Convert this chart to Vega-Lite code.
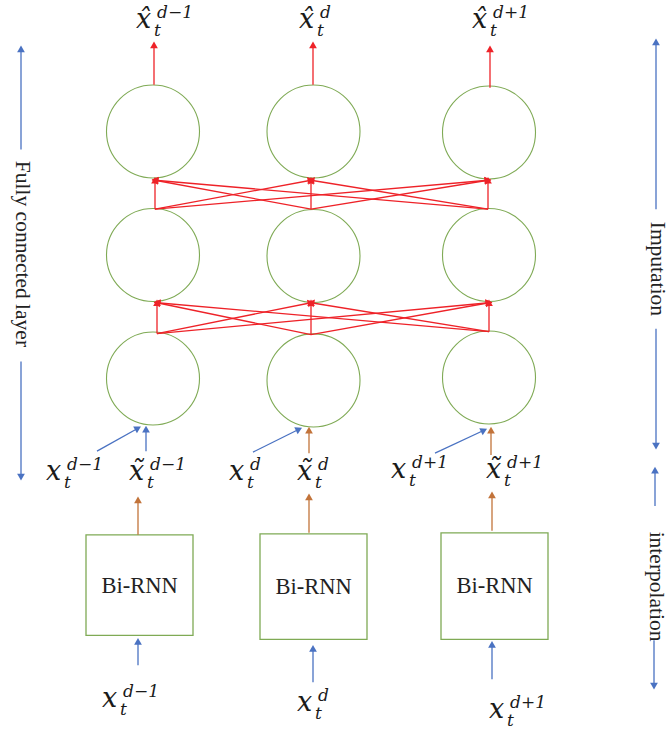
{
  "$schema": "https://vega.github.io/schema/vega-lite/v6.json",
  "width": 670,
  "height": 729,
  "autosize": {"type": "fit", "contains": "padding"},
  "padding": 0,
  "background": "white",
  "config": {"view": {"stroke": null}},
  "datasets": {
    "circles": [
      {"col": 1, "row": 1, "x": 153, "y": 132},
      {"col": 2, "row": 1, "x": 313.5, "y": 132},
      {"col": 3, "row": 1, "x": 489, "y": 133},
      {"col": 1, "row": 2, "x": 153, "y": 256},
      {"col": 2, "row": 2, "x": 313.5, "y": 257},
      {"col": 3, "row": 2, "x": 489, "y": 256},
      {"col": 1, "row": 3, "x": 153, "y": 380},
      {"col": 2, "row": 3, "x": 313.5, "y": 382},
      {"col": 3, "row": 3, "x": 489, "y": 379}
    ],
    "boxes": [
      {"x": 86, "x2": 193, "y": 537, "y2": 638},
      {"x": 260, "x2": 367, "y": 536, "y2": 642},
      {"x": 441, "x2": 548, "y": 535, "y2": 642}
    ],
    "arrows": [
      {"k": "red", "x": 154, "y": 85, "x2": 154, "y2": 45, "ang": 0},
      {"k": "red", "x": 313, "y": 85, "x2": 313, "y2": 45, "ang": 0},
      {"k": "red", "x": 490, "y": 88, "x2": 490, "y2": 49, "ang": 0},
      {"k": "red", "x": 155, "y": 210, "x2": 155, "y2": 181, "ang": 0},
      {"k": "red", "x": 155, "y": 210, "x2": 311, "y2": 181, "ang": 79},
      {"k": "red", "x": 155, "y": 210, "x2": 488, "y2": 181, "ang": 85},
      {"k": "red", "x": 311, "y": 210, "x2": 155, "y2": 181, "ang": -79},
      {"k": "red", "x": 311, "y": 210, "x2": 311, "y2": 181, "ang": 0},
      {"k": "red", "x": 311, "y": 210, "x2": 488, "y2": 181, "ang": 80},
      {"k": "red", "x": 488, "y": 210, "x2": 155, "y2": 181, "ang": -85},
      {"k": "red", "x": 488, "y": 210, "x2": 311, "y2": 181, "ang": -80},
      {"k": "red", "x": 488, "y": 210, "x2": 488, "y2": 181, "ang": 0},
      {"k": "red", "x": 157, "y": 335, "x2": 157, "y2": 304, "ang": 0},
      {"k": "red", "x": 157, "y": 335, "x2": 311, "y2": 304, "ang": 78},
      {"k": "red", "x": 157, "y": 335, "x2": 489, "y2": 304, "ang": 84},
      {"k": "red", "x": 311, "y": 336, "x2": 157, "y2": 304, "ang": -78},
      {"k": "red", "x": 311, "y": 336, "x2": 311, "y2": 304, "ang": 0},
      {"k": "red", "x": 311, "y": 336, "x2": 489, "y2": 304, "ang": 80},
      {"k": "red", "x": 489, "y": 333, "x2": 157, "y2": 304, "ang": -84},
      {"k": "red", "x": 489, "y": 333, "x2": 311, "y2": 304, "ang": -80},
      {"k": "red", "x": 489, "y": 333, "x2": 489, "y2": 304, "ang": 0},
      {"k": "blue", "x": 97, "y": 453, "x2": 138, "y2": 430, "ang": 61},
      {"k": "blue", "x": 146, "y": 453, "x2": 146, "y2": 431, "ang": 0},
      {"k": "blue", "x": 253, "y": 454, "x2": 299, "y2": 431, "ang": 64},
      {"k": "orange", "x": 309, "y": 455, "x2": 309, "y2": 432, "ang": 0},
      {"k": "blue", "x": 435, "y": 455, "x2": 484, "y2": 432, "ang": 64},
      {"k": "orange", "x": 491, "y": 457, "x2": 491, "y2": 432, "ang": 0},
      {"k": "orange", "x": 138, "y": 537, "x2": 138, "y2": 502, "ang": 0},
      {"k": "orange", "x": 309, "y": 535, "x2": 309, "y2": 499, "ang": 0},
      {"k": "orange", "x": 492, "y": 533, "x2": 492, "y2": 497, "ang": 0},
      {"k": "blue", "x": 138, "y": 668, "x2": 138, "y2": 644, "ang": 0},
      {"k": "blue", "x": 313, "y": 685, "x2": 313, "y2": 651, "ang": 0},
      {"k": "blue", "x": 492, "y": 682, "x2": 492, "y2": 647, "ang": 0},
      {"k": "blue", "x": 21, "y": 150, "x2": 21, "y2": 49, "ang": 0},
      {"k": "blue", "x": 21, "y": 363, "x2": 21, "y2": 479, "ang": 180},
      {"k": "blue", "x": 656, "y": 210, "x2": 656, "y2": 42, "ang": 0},
      {"k": "blue", "x": 656, "y": 330, "x2": 656, "y2": 448, "ang": 180},
      {"k": "blue", "x": 655, "y": 508, "x2": 655, "y2": 472, "ang": 0},
      {"k": "blue", "x": 654, "y": 643, "x2": 654, "y2": 689, "ang": 180}
    ],
    "boxText": [
      {"x": 139.5, "y": 588, "t": "Bi-RNN"},
      {"x": 313.5, "y": 589, "t": "Bi-RNN"},
      {"x": 494.5, "y": 588, "t": "Bi-RNN"}
    ],
    "sideText": [
      {"x": 22, "y": 255, "t": "Fully connected layer"},
      {"x": 657, "y": 270, "t": "Imputation"},
      {"x": 656, "y": 589, "t": "interpolation"}
    ],
    "labels": [
      {"base": "x̂", "sub": "t", "sup": "d−1", "x": 136, "y": 28},
      {"base": "x̂", "sub": "t", "sup": "d", "x": 299, "y": 28},
      {"base": "x̂", "sub": "t", "sup": "d+1", "x": 472, "y": 28},
      {"base": "x", "sub": "t", "sup": "d−1", "x": 46, "y": 482},
      {"base": "x̃", "sub": "t", "sup": "d−1", "x": 129, "y": 482},
      {"base": "x", "sub": "t", "sup": "d", "x": 229, "y": 482},
      {"base": "x̃", "sub": "t", "sup": "d", "x": 297, "y": 482},
      {"base": "x", "sub": "t", "sup": "d+1", "x": 391, "y": 480},
      {"base": "x̃", "sub": "t", "sup": "d+1", "x": 486, "y": 480},
      {"base": "x", "sub": "t", "sup": "d−1", "x": 102, "y": 710},
      {"base": "x", "sub": "t", "sup": "d", "x": 297, "y": 714},
      {"base": "x", "sub": "t", "sup": "d+1", "x": 489, "y": 721}
    ]
  },
  "encoding": {
    "x": {"field": "x", "type": "quantitative", "scale": {"domain": [0, 670], "nice": false, "zero": false}, "axis": null},
    "y": {"field": "y", "type": "quantitative", "scale": {"domain": [0, 729], "reverse": true, "nice": false, "zero": false}, "axis": null}
  },
  "layer": [
    {
      "data": {"name": "circles"},
      "mark": {"type": "point", "shape": "circle", "size": 8650, "filled": false, "stroke": "#7FAA55", "strokeWidth": 1.1, "opacity": 1}
    },
    {
      "data": {"name": "boxes"},
      "mark": {"type": "rect", "fill": "white", "stroke": "#7FAA55", "strokeWidth": 1.3},
      "encoding": {
        "x2": {"field": "x2"},
        "y2": {"field": "y2"}
      }
    },
    {
      "data": {"name": "arrows"},
      "mark": {"type": "rule", "strokeWidth": 1.3},
      "encoding": {
        "x2": {"field": "x2"},
        "y2": {"field": "y2"},
        "color": {"field": "k", "type": "nominal", "scale": {"domain": ["red", "blue", "orange"], "range": ["#EE2228", "#4A72C2", "#C2733A"]}, "legend": null}
      }
    },
    {
      "data": {"name": "arrows"},
      "mark": {"type": "point", "shape": "triangle-up", "size": 60, "filled": true, "opacity": 1, "strokeWidth": 0},
      "encoding": {
        "x": {"field": "x2", "type": "quantitative"},
        "y": {"field": "y2", "type": "quantitative"},
        "angle": {"field": "ang", "type": "quantitative", "scale": null},
        "color": {"field": "k", "type": "nominal", "scale": {"domain": ["red", "blue", "orange"], "range": ["#EE2228", "#4A72C2", "#C2733A"]}, "legend": null}
      }
    },
    {
      "data": {"name": "boxText"},
      "mark": {"type": "text", "font": "Liberation Serif", "fontSize": 22.5, "color": "#222222", "align": "center", "baseline": "middle"},
      "encoding": {"text": {"field": "t"}}
    },
    {
      "data": {"name": "sideText"},
      "mark": {"type": "text", "font": "Liberation Serif", "fontSize": 21.5, "color": "#222222", "align": "center", "baseline": "middle", "angle": 90},
      "encoding": {"text": {"field": "t"}}
    },
    {
      "data": {"name": "labels"},
      "mark": {"type": "text", "font": "DejaVu Serif", "fontStyle": "italic", "fontSize": 27, "color": "#1a1a1a", "align": "left", "baseline": "alphabetic"},
      "encoding": {"text": {"field": "base"}}
    },
    {
      "data": {"name": "labels"},
      "mark": {"type": "text", "font": "DejaVu Serif", "fontStyle": "italic", "fontSize": 17, "color": "#1a1a1a", "align": "left", "baseline": "alphabetic", "dx": 18, "dy": 8},
      "encoding": {"text": {"field": "sub"}}
    },
    {
      "data": {"name": "labels"},
      "mark": {"type": "text", "font": "DejaVu Serif", "fontStyle": "italic", "fontSize": 17, "color": "#1a1a1a", "align": "left", "baseline": "alphabetic", "dx": 21, "dy": -10},
      "encoding": {"text": {"field": "sup"}}
    }
  ]
}
